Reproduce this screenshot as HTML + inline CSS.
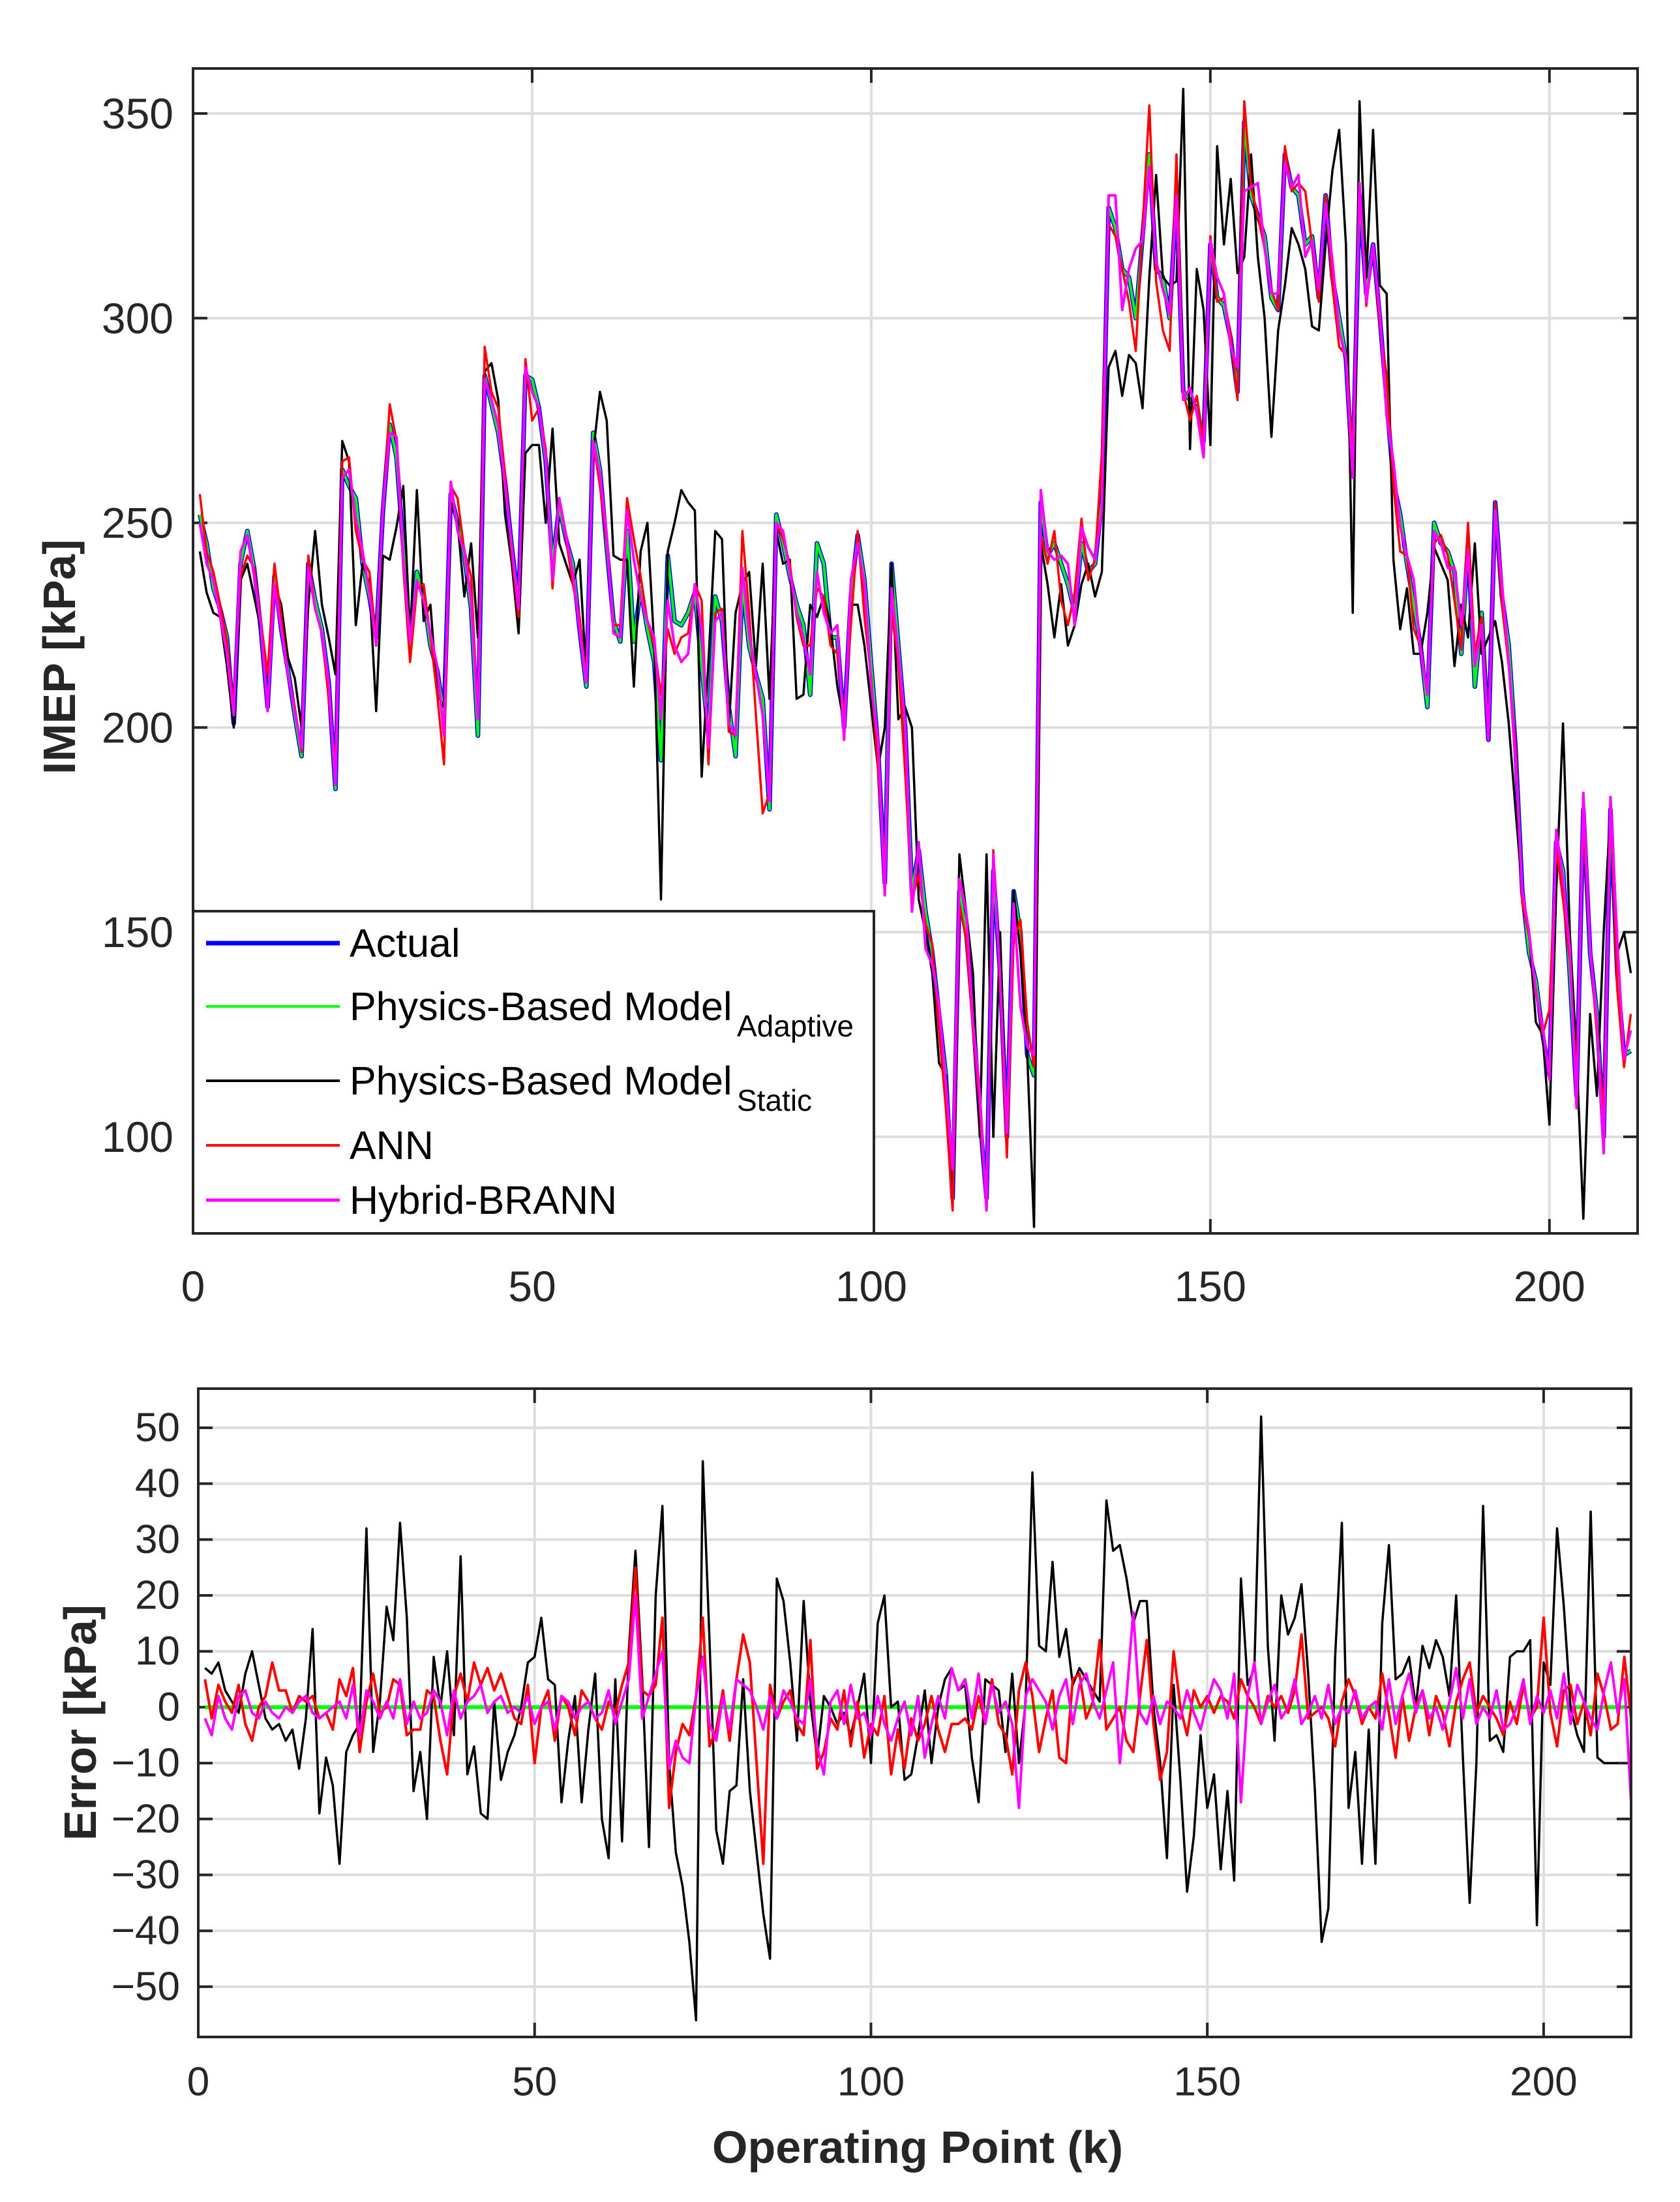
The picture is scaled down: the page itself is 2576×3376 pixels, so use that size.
<!DOCTYPE html>
<html><head><meta charset="utf-8"><style>
html,body{margin:0;padding:0;background:#fff;}
svg{display:block;font-family:"Liberation Sans",Arial,sans-serif;}
</style></head><body>
<svg id="chart" width="2576" height="3376" viewBox="0 0 2576 3376" xmlns="http://www.w3.org/2000/svg">
<rect x="0" y="0" width="2576" height="3376" fill="#fff"/>
<g id="top"></g>
<g id="bot"></g>
<text x="91" y="1007" transform="rotate(-90 91 1007)" text-anchor="middle" dominant-baseline="central" font-size="70" font-weight="bold" fill="#262626">IMEP [kPa]</text>
<text x="123" y="2641" transform="rotate(-90 123 2641)" text-anchor="middle" dominant-baseline="central" font-size="70" font-weight="bold" fill="#262626">Error [kPa]</text>
<text x="1407" y="3292" text-anchor="middle" dominant-baseline="central" font-size="70" font-weight="bold" fill="#262626">Operating Point (k)</text>
</svg>
<script>
const xTicks = [0, 50, 100, 150, 200];
const xTickLabels = ["0", "50", "100", "150", "200"];
const imepTicks = [100, 150, 200, 250, 300, 350];
const imepTickLabels = ["100", "150", "200", "250", "300", "350"];
const errTicks = [-50, -40, -30, -20, -10, 0, 10, 20, 30, 40, 50];
const errTickLabels = ["\u221250", "\u221240", "\u221230", "\u221220", "\u221210", "0", "10", "20", "30", "40", "50"];

const actual = [252,245,234,229,222,201,240,248,239,224,205,237,224,214,203,193,240,231,224,211,185,263,259,256,240,232,222,253,274,266,244,220,238,232,220,214,203,257,250,242,229,198,286,279,272,260,244,230,286,285,278,265,240,254,246,240,224,210,272,263,244,226,221,248,221,234,224,216,192,242,226,
225,228,233,215,198,232,226,205,193,235,220,213,207,180,252,245,237,230,225,208,245,240,222,222,200,232,247,236,215,
195,162,240,220,200,160,170,155,145,130,115,85,160,150,130,105,85,165,140,100,160,150,120,115,
255,242,245,240,235,228,245,238,240,255,327,322,312,310,300,320,340,312,310,300,330,282,280,278,270,318,305,303,295,282,348,330,325,320,305,302,
340,332,330,318,320,305,330,310,300,290,262,330,306,318,300,280,260,252,240,230,220,205,250,245,243,238,218,245,210,228,197,255,232,220,195,160,145,138,125,115,172,165,140,110,180,145,130,100,180,140,120,121];

const staticModel = [243,233,228,227,215,200,236,240,232,224,205,235,230,217,212,200,230,248,230,222,213,270,265,225,240,235,204,242,241,249,259,222,258,226,230,208,205,255,250,232,245,222,287,289,280,252,240,223,267,269,269,250,273,245,240,235,241,212,267,282,275,242,241,241,210,243,250,220,158,243,250,258,255,253,188,216,248,246,200,228,235,238,215,240,207,248,240,241,207,208,230,227,232,225,210,201,230,230,220,205,
190,200,240,202,205,200,158,150,140,118,115,86,169,155,140,100,169,100,150,100,160,145,120,78,245,235,222,235,220,225,235,240,232,238,288,292,281,291,289,278,310,335,310,308,309,356,268,312,302,269,342,318,334,311,315,340,315,300,271,297,308,322,318,312,298,297,318,336,346,318,228,353,310,346,308,306,241,224,234,218,218,228,244,240,236,215,230,222,245,218,222,226,216,201,180,160,150,128,125,103,160,201,150,120,80,130,110,150,180,145,150,140];

const errAdaptive = [0,0,0,0,0,0,0,0,0,0,0,0,0,0,0,0,0,0,0,0,0,0,0,0,0,0,0,0,0,0,0,0,0,0,0,0,0,0,0,0,0,0,0,0,0,0,0,0,0,0,0,0,0,0,0,0,0,0,0,0,0,0,0,0,0,0,0,0,0,0,0,0,0,0,0,0,0,0,0,0,0,0,0,0,0,0,0,0,0,0,0,0,0,0,0,0,0,0,0,0,0,0,0,0,0,0,0,0,0,0,0,0,0,0,0,0,0,0,0,0,0,0,0,0,0,0,0,0,0,0,0,0,0,0,0,0,0,0,0,0,0,0,0,0,0,0,0,0,0,0,0,0,0,0,0,0,0,0,0,0,0,0,0,0,0,0,0,0,0,0,0,0,0,0,0,0,0,0,0,0,0,0,0,0,0,0,0,0,0,0,0,0,0,0,0,0,0,0,0,0,0,0,0,0,0,0,0,0,0,0,0,0];

const errStatic = [7,6,8,3,1,-1,6,10,4,-2,-4,-3,-6,-4,-11,-2,14,-19,-9,-14,-28,-8,-5,-3,32,-8,1,18,12,33,16,-15,-8,-20,9,0,10,-5,27,-12,-7,-19,-20,1,-13,-8,-5,0,8,9,16,5,4,-17,-6,2,-17,-4,6,-20,-27,5,-24,10,28,5,-25,20,36,-10,-26,-32,-42,-56,44,12,-22,-28,-15,-14,5,-15,-26,-37,-45,23,19,8,-6,19,1,-9,2,0,-3,-1,-5,0,6,-10,15,20,0,1,-13,-12,-5,3,-10,0,5,7,3,4,-9,-17,5,4,3,-8,6,-10,1,42,11,10,26,9,14,4,7,5,3,1,37,28,29,23,15,19,19,0,-10,-27,4,-13,-33,-23,-5,-18,-12,-29,-15,-31,23,4,7,52,11,-6,20,13,16,22,6,-15,-42,-36,9,33,-18,-8,-28,-4,-28,15,29,5,6,9,0,11,7,12,9,2,20,-9,-35,-10,36,-6,-5,-8,9,10,10,12,-39,8,4,32,18,0,-5,-8,35,-9,-10,-10,-10];

const errANN = [5,-2,4,1,-1,4,-3,-6,0,2,8,3,3,-1,2,1,2,-2,-1,-4,5,2,7,-8,1,6,-1,0,5,4,-5,-4,-4,3,2,-6,-12,2,6,1,8,4,7,3,6,2,-2,-3,4,-10,0,3,-6,2,0,-5,3,1,-2,-4,1,-1,4,8,25,3,2,4,16,-18,-8,-3,-5,2,16,-7,-4,3,-6,5,13,8,-10,-28,4,-2,1,3,-3,-5,12,-11,-8,-2,-4,3,-7,1,-9,-3,-5,2,-12,-4,-11,-2,-6,-3,2,-4,-8,-3,-3,-2,-4,2,-3,5,-3,-5,-12,3,8,2,-8,-2,3,-9,-10,5,6,-2,1,12,-4,-2,0,-6,-8,2,12,-3,-13,-8,10,0,-5,3,0,2,-1,2,1,-2,5,2,0,-3,2,0,2,-1,3,13,-2,-1,0,-2,-7,1,5,2,-3,0,-2,6,-1,-9,2,-6,0,3,-5,2,-1,-7,1,5,8,-1,2,0,-2,-5,1,-3,4,-2,0,16,-1,-7,3,4,-3,1,-5,6,2,-4,-3,9,-2,4,0];

const errHybrid = [-2,-5,2,-2,-4,2,3,-1,-2,1,-1,-2,0,-1,1,2,-1,-2,-1,0,1,-2,4,-5,3,1,-2,1,-2,5,-3,1,-2,-1,3,1,-5,3,-2,1,2,4,-1,1,2,-1,0,-1,2,-3,0,1,-4,2,1,-2,0,1,-2,-1,3,-3,1,5,20,-2,2,6,10,-11,-6,-9,-10,2,9,-3,-6,2,-4,5,4,3,0,-4,2,-2,3,1,-2,-3,5,-7,-12,1,3,-3,4,-2,-1,-5,2,-3,-6,-2,1,-5,2,-9,-3,2,-2,7,3,5,-2,6,-3,4,-1,1,-3,-18,2,5,3,1,-4,2,5,-3,4,6,1,-2,3,8,-10,2,17,-1,-3,2,-3,1,0,-2,3,-1,-4,1,5,3,-2,6,-17,2,8,-3,1,4,-2,0,5,-3,-1,2,-2,4,-3,0,-1,3,-2,0,1,-4,5,-3,2,6,-1,3,-2,0,-4,1,7,-2,5,-3,0,-2,3,-4,-3,0,5,-3,2,-1,3,-2,6,-3,4,1,-2,-4,3,8,-1,5,-17];

const NS = "http://www.w3.org/2000/svg";
function mk(parent, tag, attrs) {
  const el = document.createElementNS(NS, tag);
  for (const k in attrs) el.setAttribute(k, attrs[k]);
  parent.appendChild(el);
  return el;
}
function makeAxis(x0, x1, y0, y1, xmin, xmax, ymin, ymax) {
  return {
    x: v => x0 + (v - xmin) / (xmax - xmin) * (x1 - x0),
    y: v => y1 - (v - ymin) / (ymax - ymin) * (y1 - y0),
    x0, x1, y0, y1
  };
}
const topAx = makeAxis(296, 2511, 105, 1891, 0, 213, 76.4, 361.0);
const botAx = makeAxis(304, 2501, 2129, 3123, 0, 213, -59, 57);

function drawFrame(g, ax, yTicks, yLabels, xLabelY, yLabelX, fs, prefix) {
  mk(g, "rect", {x: ax.x0, y: ax.y0, width: ax.x1 - ax.x0, height: ax.y1 - ax.y0, fill: "#fff"});
  xTicks.forEach((t, i) => {
    const x = ax.x(t);
    const gl = mk(g, "line", {x1: x, x2: x, y1: ax.y0, y2: ax.y1, stroke: "#dedede", "stroke-width": 4});
    
    
    const tb = mk(g, "line", {x1: x, x2: x, y1: ax.y1, y2: ax.y1 - 22, stroke: "#262626", "stroke-width": 4});
    
    
    const tt = mk(g, "line", {x1: x, x2: x, y1: ax.y0, y2: ax.y0 + 22, stroke: "#262626", "stroke-width": 4});
    
    
    const lb = mk(g, "text", {x: x, y: xLabelY, "text-anchor": "middle", "dominant-baseline": "central", "font-size": fs, fill: "#262626"});
    lb.textContent = xTickLabels[i];
    
    
  });
  yTicks.forEach((t, i) => {
    const y = ax.y(t);
    const gl = mk(g, "line", {x1: ax.x0, x2: ax.x1, y1: y, y2: y, stroke: "#dedede", "stroke-width": 4});
    
    
    const tl = mk(g, "line", {x1: ax.x0, x2: ax.x0 + 22, y1: y, y2: y, stroke: "#262626", "stroke-width": 4});
    
    
    const tr = mk(g, "line", {x1: ax.x1, x2: ax.x1 - 22, y1: y, y2: y, stroke: "#262626", "stroke-width": 4});
    
    
    const lb = mk(g, "text", {x: yLabelX, y: y, "text-anchor": "end", "dominant-baseline": "central", "font-size": fs, fill: "#262626"});
    lb.textContent = yLabels[i];
    
    
  });
}
function drawLine(g, ax, vals, color, w, name) {
  const pts = vals.map((v, i) => ax.x(i + 1).toFixed(1) + "," + ax.y(v).toFixed(1)).join(" ");
  const pl = mk(g, "polyline", {points: pts, fill: "none", stroke: color, "stroke-width": w, "stroke-linejoin": "round"});
  
  
}
function drawBorder(g, ax) {
  const b = mk(g, "rect", {x: ax.x0, y: ax.y0, width: ax.x1 - ax.x0, height: ax.y1 - ax.y0, fill: "none", stroke: "#262626", "stroke-width": 4});
  
  
}

/* Top panel */
const gTop = document.getElementById("top");
drawFrame(gTop, topAx, imepTicks, imepTickLabels, 1972, 266, 66, "imep");
const clipTop = mk(gTop, "clipPath", {id: "ct"});
mk(clipTop, "rect", {x: topAx.x0, y: topAx.y0, width: topAx.x1 - topAx.x0, height: topAx.y1 - topAx.y0});
const gTopLines = mk(gTop, "g", {"clip-path": "url(#ct)"});
const predAdaptive = actual.map((v, i) => v + (errAdaptive[i] || 0));
const predANN = actual.map((v, i) => v + (errANN[i] || 0));
const predHybrid = actual.map((v, i) => v + (errHybrid[i] || 0));
drawLine(gTopLines, topAx, actual, "#0000ff", 7, "actual-line");
drawLine(gTopLines, topAx, predAdaptive, "#00ff00", 4, "adaptive-model-line");
drawLine(gTopLines, topAx, staticModel, "#000000", 3.5, "static-model-line");
drawLine(gTopLines, topAx, predANN, "#ff0000", 3.5, "ann-line");
drawLine(gTopLines, topAx, predHybrid, "#ff00ff", 4, "hybrid-brann-line");
drawBorder(gTop, topAx);

/* Legend */
const lg = mk(gTop, "g", {});


mk(lg, "rect", {x: 296, y: 1397, width: 1044, height: 494, fill: "#fff", stroke: "#262626", "stroke-width": 4});
const legendNames = ["Actual", "Physics-Based Model", "Physics-Based Model", "ANN", "Hybrid-BRANN"];
const legendSubs = ["", "Adaptive", "Static", "", ""];
const legendColors = ["#0000ff", "#00ff00", "#000000", "#ff0000", "#ff00ff"];
const legendW = [7, 4, 4, 4, 5];
const legendY = [1446, 1543, 1657, 1756, 1840];
legendNames.forEach((n, i) => {
  const e = mk(lg, "g", {});
  
  
  mk(e, "line", {x1: 316, x2: 521, y1: legendY[i], y2: legendY[i], stroke: legendColors[i], "stroke-width": legendW[i]});
  const t = mk(e, "text", {x: 536, y: legendY[i], "dominant-baseline": "central", "font-size": 61, fill: "#000"});
  t.textContent = n;
  if (legendSubs[i]) {
    const s = mk(e, "text", {x: 1130, y: legendY[i] + 30, "dominant-baseline": "central", "font-size": 46, fill: "#000"});
    s.textContent = legendSubs[i];
  }
});

/* Bottom panel */
const gBot = document.getElementById("bot");
drawFrame(gBot, botAx, errTicks, errTickLabels, 3192, 276, 62, "error");
const clipBot = mk(gBot, "clipPath", {id: "cb"});
mk(clipBot, "rect", {x: botAx.x0, y: botAx.y0, width: botAx.x1 - botAx.x0, height: botAx.y1 - botAx.y0});
const gBotLines = mk(gBot, "g", {"clip-path": "url(#cb)"});
drawLine(gBotLines, botAx, errAdaptive, "#00ff00", 6, "adaptive-error-line");
drawLine(gBotLines, botAx, errStatic, "#000000", 3.5, "static-error-line");
drawLine(gBotLines, botAx, errANN, "#ff0000", 4, "ann-error-line");
drawLine(gBotLines, botAx, errHybrid, "#ff00ff", 4, "hybrid-error-line");
drawBorder(gBot, botAx);
</script>
</body></html>
